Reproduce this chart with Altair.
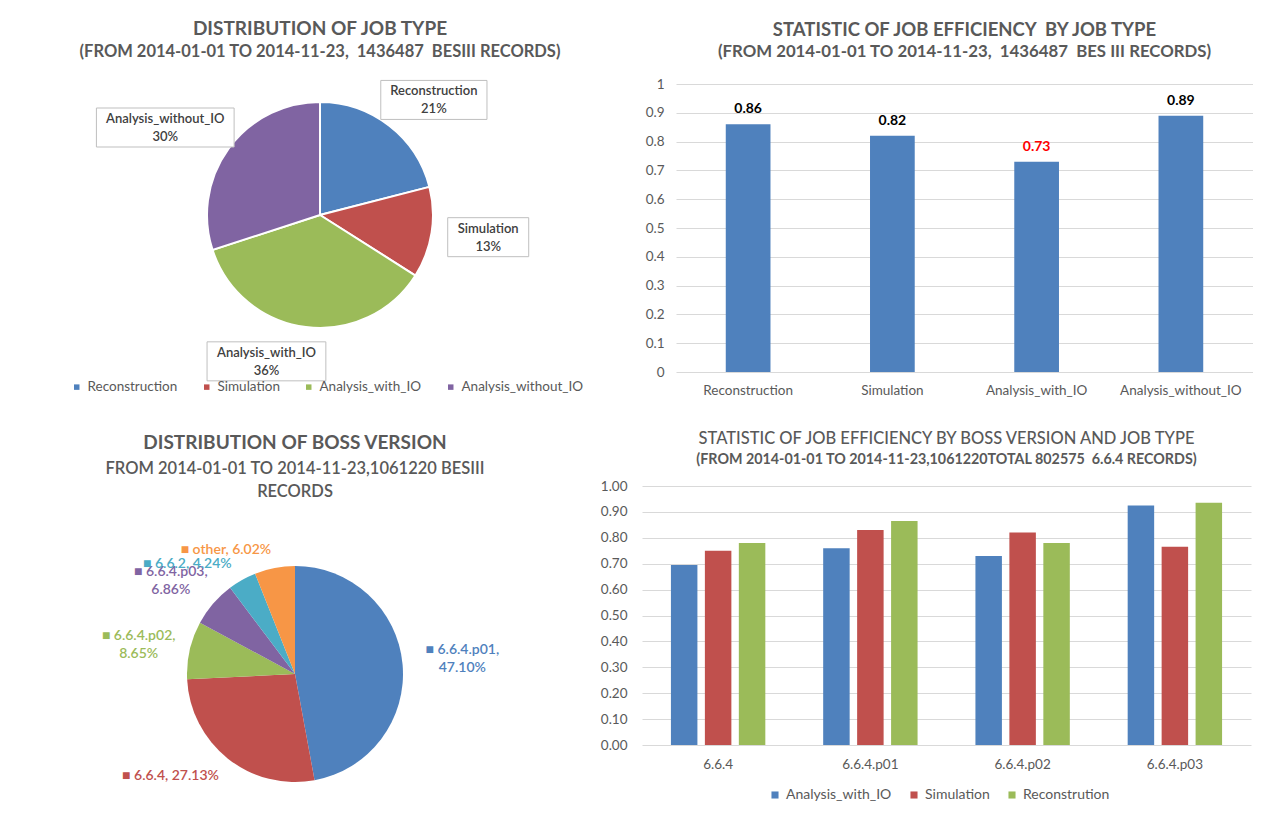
import json
import altair as alt
import pandas as pd

FONT = "Lato"
TC = "#595959"
GRID = "#D9D9D9"
SP2 = "\u00a0 "  # a double space that SVG will not collapse

# ---- Panel 1: distribution of job type ----
job_types = ["Reconstruction", "Simulation", "Analysis_with_IO", "Analysis_without_IO"]
job_share = [21, 13, 36, 30]
job_colors = ["#4F81BD", "#C0504D", "#9BBB59", "#8064A2"]

# ---- Panel 2: job efficiency by job type ----
eff_by_type = [0.86, 0.82, 0.73, 0.89]

# ---- Panel 3: distribution of BOSS version ----
boss_versions = ["6.6.4.p01", "6.6.4", "6.6.4.p02", "6.6.4.p03", "6.6.2", "other"]
boss_share = [47.10, 27.13, 8.65, 6.86, 4.24, 6.02]
boss_colors = ["#4F81BD", "#C0504D", "#9BBB59", "#8064A2", "#4BACC6", "#F79646"]

# ---- Panel 4: efficiency by BOSS version and job type ----
versions = ["6.6.4", "6.6.4.p01", "6.6.4.p02", "6.6.4.p03"]
series_names = ["Analysis_with_IO", "Simulation", "Reconstrution"]
series_colors = ["#4F81BD", "#C0504D", "#9BBB59"]
eff_analysis = [0.695, 0.76, 0.73, 0.925]
eff_simulation = [0.75, 0.83, 0.82, 0.765]
eff_reconstrution = [0.78, 0.865, 0.78, 0.935]


def ttl(text, subtitle, fs, sfs, fw, sfw, offset, sub_lh=None, sub_pad=5):
    return alt.TitleParams(
        text=text, subtitle=subtitle, font=FONT, subtitleFont=FONT,
        fontSize=fs, subtitleFontSize=sfs, fontWeight=fw, subtitleFontWeight=sfw,
        color=TC, subtitleColor=TC, anchor="middle", offset=offset,
        subtitlePadding=sub_pad, subtitleLineHeight=sub_lh or (sfs + 6),
    )


def in_group(field, group):
    return "indexof(" + json.dumps(group) + ", datum['" + field + "']) >= 0"


def label_layer(base, field, group, **mark_kw):
    """Text layer showing labels only for `group`, keeping the full stack so
    each label sits at its own slice's mid-angle."""
    expr = in_group(field, group) + " ? datum.label : ''"
    return base.transform_calculate(lab=expr).mark_text(**mark_kw).encode(text="lab:N")


# ---------- Top-left pie with callout labels ----------
W1, H1 = 640, 262
R_RIGHT, DX_RIGHT = 145, 25
R_LEFT, DX_LEFT = 148, -35
right_group = job_types[:2]

df1 = pd.DataFrame({"type": job_types, "share": job_share})
df1["order"] = range(len(df1))
df1["label"] = df1["type"] + "\n" + df1["share"].astype(str) + "%"

base1 = alt.Chart(df1).encode(
    theta=alt.Theta("share:Q", stack=True),
    order=alt.Order("order:Q"),
)
pie1 = base1.mark_arc(outerRadius=113, stroke="white", strokeWidth=2).encode(
    color=alt.Color(
        "type:N", sort=job_types,
        scale=alt.Scale(domain=job_types, range=job_colors),
        legend=alt.Legend(
            orient="none", legendX=70, legendY=296, direction="horizontal",
            title=None, symbolType="square", symbolSize=30, symbolStrokeWidth=0,
            labelFontSize=13.5, labelColor=TC, labelFont=FONT, columnPadding=22,
        ),
    )
)
# callout boxes behind the labels (same geometry as the label layers)
boxes1 = alt.Chart(df1).transform_window(
    cum="sum(share)", sort=[alt.SortField("order")]
).transform_joinaggregate(total="sum(share)").transform_calculate(
    mid="2 * PI * (datum.cum - datum.share / 2) / datum.total",
    right=in_group("type", right_group),
    rr=f"datum.right ? {R_RIGHT} : {R_LEFT}",
    ddx=f"datum.right ? {DX_RIGHT} : {DX_LEFT}",
    cx=f"{W1 / 2} + datum.rr * sin(datum.mid) + datum.ddx",
    cy=f"{H1 / 2} - datum.rr * cos(datum.mid)",
    bw="6.3 * length(datum.type) + 18",
    bx1="datum.cx - datum.bw / 2", bx2="datum.cx + datum.bw / 2",
    by1="datum.cy - 20", by2="datum.cy + 19",
).mark_rect(fill="white", stroke="#BFBFBF", strokeWidth=1).encode(
    x=alt.X("bx1:Q", scale=None, axis=None), x2="bx2:Q",
    y=alt.Y("by1:Q", scale=None, axis=None), y2="by2:Q",
)
lab_style = dict(lineBreak="\n", fontSize=13, fontWeight=600, color="#404040",
                 font=FONT, lineHeight=18, dy=-9)
lab1_right = label_layer(base1, "type", right_group, radius=R_RIGHT, dx=DX_RIGHT, **lab_style)
lab1_left = label_layer(base1, "type", job_types[2:], radius=R_LEFT, dx=DX_LEFT, **lab_style)
tl = alt.layer(pie1, boxes1, lab1_right, lab1_left).properties(
    width=W1, height=H1,
    title=ttl("DISTRIBUTION OF JOB TYPE",
              "(FROM 2014-01-01 TO 2014-11-23," + SP2 + "1436487" + SP2 + "BESIII RECORDS)",
              19, 16.5, "bold", "bold", 19),
)

# ---------- Top-right bars ----------
df2 = pd.DataFrame({"type": job_types, "eff": eff_by_type})
base2 = alt.Chart(df2).encode(
    x=alt.X("type:N", sort=job_types,
            scale=alt.Scale(paddingInner=0.69, paddingOuter=0.345),
            axis=alt.Axis(title=None, labelAngle=0, domain=False, ticks=False,
                          labelFontSize=13.5, labelColor=TC, labelFont=FONT,
                          labelPadding=11)),
    y=alt.Y("eff:Q", scale=alt.Scale(domain=[0, 1]),
            axis=alt.Axis(title=None, tickCount=10, format="~g", domain=False,
                          ticks=False, gridColor=GRID, labelFontSize=13.5,
                          labelColor=TC, labelFont=FONT, labelPadding=12)),
)
bars2 = base2.mark_bar(color="#4F81BD")
text2 = base2.mark_text(dy=-8, baseline="bottom", fontSize=14, fontWeight="bold",
                        font=FONT).encode(
    text=alt.Text("eff:Q", format=".2f"),
    color=alt.condition(alt.datum.type == "Analysis_with_IO",
                        alt.value("#FF0000"), alt.value("#000000")),
)
tr = alt.layer(bars2, text2).properties(
    width=577, height=288,
    title=ttl("STATISTIC OF JOB EFFICIENCY" + SP2 + "BY JOB TYPE",
              "(FROM 2014-01-01 TO 2014-11-23," + SP2 + "1436487" + SP2 + "BES III RECORDS)",
              18.5, 16.8, "bold", "bold", 16),
)

# ---------- Bottom-left pie ----------
df3 = pd.DataFrame({"version": boss_versions, "share": boss_share})
df3["order"] = range(len(df3))
df3["label"] = [
    "\u25A0 " + v + (",\n" if ".p" in v else ", ") + f"{s:.2f}%"
    for v, s in zip(boss_versions, boss_share)
]
color3 = alt.Color("version:N", sort=boss_versions,
                   scale=alt.Scale(domain=boss_versions, range=boss_colors),
                   legend=None)
base3 = alt.Chart(df3).encode(
    theta=alt.Theta("share:Q", stack=True),
    order=alt.Order("order:Q"),
    color=color3,
)
pie3 = base3.mark_arc(outerRadius=108)
lab3_style = dict(lineBreak="\n", fontSize=14, fontWeight=600, font=FONT, lineHeight=18)
lab3_a = label_layer(base3, "version", ["6.6.4.p01"], radius=168, dy=-9, **lab3_style)
lab3_b = label_layer(base3, "version", ["6.6.4.p02", "6.6.4.p03"], radius=148,
                     dx=-12, dy=-5, **lab3_style)
lab3_c = label_layer(base3, "version", ["6.6.4", "6.6.2", "other"], radius=128,
                     dx=-45, dy=2, **lab3_style)
bl = alt.layer(pie3, lab3_a, lab3_b, lab3_c).properties(
    width=590, height=376,
    title=ttl("DISTRIBUTION OF BOSS VERSION",
              ["FROM 2014-01-01 TO 2014-11-23,1061220 BESIII", "RECORDS"],
              19, 16.5, "bold", 600, -14, sub_lh=23, sub_pad=8),
)

# ---------- Bottom-right grouped bars ----------
rows = []
for s, vals in zip(series_names, [eff_analysis, eff_simulation, eff_reconstrution]):
    for v, e in zip(versions, vals):
        rows.append({"version": v, "series": s, "eff": e})
df4 = pd.DataFrame(rows)
br = alt.Chart(df4).mark_bar().encode(
    x=alt.X("version:N", sort=versions,
            scale=alt.Scale(paddingInner=0.38, paddingOuter=0.19),
            axis=alt.Axis(title=None, labelAngle=0, domain=False, ticks=False,
                          labelFontSize=13.5, labelColor=TC, labelFont=FONT,
                          labelPadding=12)),
    xOffset=alt.XOffset("series:N", sort=series_names,
                        scale=alt.Scale(paddingInner=0.22, paddingOuter=0)),
    y=alt.Y("eff:Q", scale=alt.Scale(domain=[0, 1]),
            axis=alt.Axis(title=None, tickCount=10, format=".2f", domain=False,
                          ticks=False, gridColor=GRID, labelFontSize=13.5,
                          labelColor=TC, labelFont=FONT, labelPadding=15)),
    color=alt.Color("series:N", sort=series_names,
                    scale=alt.Scale(domain=series_names, range=series_colors),
                    legend=alt.Legend(
                        orient="none", legendX=126, legendY=302,
                        direction="horizontal", title=None, symbolType="square",
                        symbolSize=50, symbolStrokeWidth=0, labelFontSize=14,
                        labelColor=TC, labelFont=FONT, columnPadding=15)),
).properties(
    width=609, height=259,
    title=ttl("STATISTIC OF JOB EFFICIENCY BY BOSS VERSION AND JOB TYPE",
              "(FROM 2014-01-01 TO 2014-11-23,1061220TOTAL 802575" + SP2 + "6.6.4 RECORDS)",
              16.5, 14.3, 500, "bold", 12),
)

top = alt.hconcat(tl, tr, spacing=5).resolve_scale(color="independent", theta="independent")
bottom = alt.hconcat(bl, br, spacing=10).resolve_scale(color="independent", theta="independent")
chart = alt.vconcat(top, bottom, spacing=34).resolve_scale(
    color="independent", theta="independent"
).properties(
    padding={"left": 0, "top": 20, "right": 0, "bottom": 0},
    background="white",
).configure_view(stroke=None)

chart.save("out.html", embed_options={"renderer": "svg", "actions": False})
